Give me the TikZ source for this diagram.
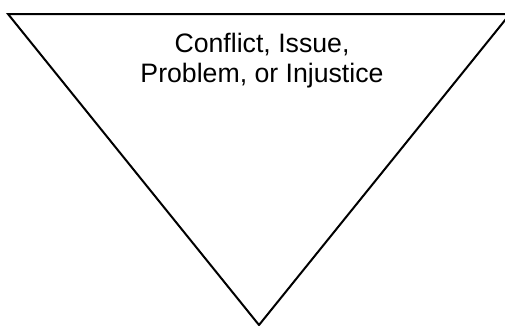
\documentclass[tikz,border=0pt]{standalone}
\usepackage{fontspec}
\setmainfont{Liberation Sans}
\begin{document}
\begin{tikzpicture}[
  x=0.75pt,
  y=-0.75pt,
  funnel/.style={draw=black, line width=1.5pt},
  caption/.style={font=\fontsize{20}{22.5}\selectfont, align=center}
]
  \useasboundingbox (0,0) rectangle (505,325);

  \coordinate (topleft) at (8,14);
  \coordinate (topright) at (510,14);
  \coordinate (apex) at (259,325);
  \draw[funnel] (topleft) -- (topright) -- (apex) -- cycle;

  \node[caption] (issue) at (262,61) {Conflict, Issue,\\Problem, or Injustice};
\end{tikzpicture}
\end{document}
